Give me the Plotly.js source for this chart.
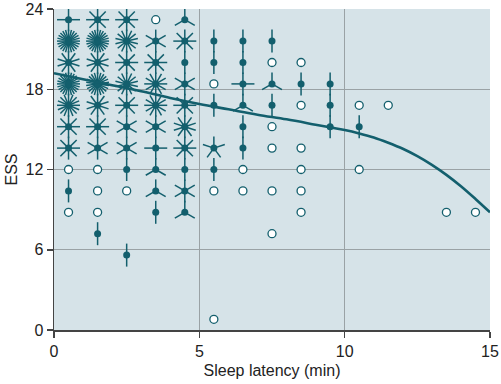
<!DOCTYPE html>
<html>
<head>
<meta charset="utf-8">
<script src="https://cdn.plot.ly/plotly-3.0.1.min.js"></script>
<style>html,body{margin:0;padding:0;background:#fff;}#chart{width:501px;height:384px;}</style>
</head>
<body>
<div id="chart"></div>
<script>
// Sunflower cells: sleep latency bin centre (min), ESS bin centre, number of observations
const latency = [
  0.5,0.5,0.5,0.5,0.5,0.5,0.5,0.5,0.5,0.5,
  1.5,1.5,1.5,1.5,1.5,1.5,1.5,1.5,1.5,1.5,1.5,
  2.5,2.5,2.5,2.5,2.5,2.5,2.5,2.5,2.5,2.5,
  3.5,3.5,3.5,3.5,3.5,3.5,3.5,3.5,3.5,3.5,
  4.5,4.5,4.5,4.5,4.5,4.5,4.5,4.5,4.5,4.5,
  5.5,5.5,5.5,5.5,5.5,5.5,5.5,5.5,
  6.5,6.5,6.5,6.5,6.5,6.5,6.5,6.5,
  7.5,7.5,7.5,7.5,7.5,7.5,7.5,7.5,
  8.5,8.5,8.5,8.5,8.5,8.5,8.5,
  9.5,9.5,9.5,
  10.5,10.5,10.5,
  11.5,
  13.5,
  14.5
];
const ess = [
  23.2,21.6,20.0,18.4,16.8,15.2,13.6,12.0,10.4,8.8,
  23.2,21.6,20.0,18.4,16.8,15.2,13.6,12.0,10.4,8.8,7.2,
  23.2,21.6,20.0,18.4,16.8,15.2,13.6,12.0,10.4,5.6,
  23.2,21.6,20.0,18.4,16.8,15.2,13.6,12.0,10.4,8.8,
  23.2,21.6,20.0,18.4,16.8,15.2,13.6,12.0,10.4,8.8,
  21.6,20.0,18.4,16.8,13.6,12.0,10.4,0.8,
  21.6,20.0,18.4,16.8,15.2,13.6,12.0,10.4,
  21.6,20.0,18.4,16.8,15.2,13.6,10.4,7.2,
  20.0,18.4,16.8,13.6,12.0,10.4,8.8,
  18.4,16.8,15.2,
  16.8,15.2,12.0,
  16.8,
  8.8,
  8.8
];
const counts = [
  4,24,10,24,16,8,8,1,2,1,
  8,24,10,22,10,8,6,1,1,1,2,
  8,14,8,14,8,6,6,2,1,2,
  1,6,8,12,12,6,4,3,3,2,
  3,8,2,6,8,10,8,2,6,3,
  2,2,1,2,5,2,1,1,
  2,2,4,3,2,2,1,1,
  2,1,3,2,1,1,1,1,
  1,2,1,1,1,1,1,
  2,2,2,
  1,2,1,
  1,
  1,
  1
];
// fitted curve
const fitX = [0,1,2,3,4,5,6,7,8,9,9.5,10,10.5,11,11.5,12,12.5,13,13.5,14,14.5,15];
const fitY = [19.2,18.75,18.3,17.85,17.35,16.9,16.5,16.1,15.75,15.35,15.15,14.95,14.7,14.4,14.0,13.55,13.0,12.35,11.6,10.75,9.8,8.8];

const W = 501, H = 384;
const M = {l:54, r:11, t:9, b:54};
const XR = [0,15], YR = [0,24];
const pxX = (W - M.l - M.r) / (XR[1]-XR[0]);
const pxY = (H - M.t - M.b) / (YR[1]-YR[0]);
const PETAL = 11.5;
const teal = '#135f6d';

const px = [], py = [];
const sx = [], sy = [], mx = [], my = [];
for (let i = 0; i < counts.length; i++) {
  const n = counts[i];
  if (n === 1) { sx.push(latency[i]); sy.push(ess[i]); continue; }
  mx.push(latency[i]); my.push(ess[i]);
  for (let k = 1; k <= n; k++) {
    const a = 2*Math.PI*k/n;
    px.push(latency[i], latency[i] + PETAL*Math.sin(a)/pxX, null);
    py.push(ess[i], ess[i] + PETAL*Math.cos(a)/pxY, null);
  }
}

const traces = [
  {x: px, y: py, mode:'lines', type:'scatter', line:{color:teal, width:1.5}, hoverinfo:'skip', showlegend:false},
  {x: mx, y: my, mode:'markers', type:'scatter', marker:{color:teal, size:7, line:{width:0}}, showlegend:false},
  {x: sx, y: sy, mode:'markers', type:'scatter', marker:{color:'#ffffff', size:8, line:{color:teal, width:1.3}}, showlegend:false},
  {x: fitX, y: fitY, mode:'lines', type:'scatter', line:{color:teal, width:2.6, shape:'spline', smoothing:1}, showlegend:false}
];

const font = {family:'"Liberation Sans", Arial, sans-serif', size:16, color:'#222'};
const layout = {
  width: W, height: H,
  margin: M,
  paper_bgcolor:'#ffffff',
  plot_bgcolor:'#d6e3e8',
  font: font,
  showlegend:false,
  xaxis: {
    range: XR, tickvals:[0,5,10,15], ticktext:['0','5','10','15'],
    showgrid:true, gridcolor:'#9aa2a5', gridwidth:1,
    zeroline:false, showline:true, linecolor:'#444', linewidth:1.5,
    ticks:'outside', ticklen:6, tickcolor:'#444', tickwidth:1.5,
    tickfont:font, automargin:false,
    title:{text:'Sleep latency (min)', font:font, standoff:6},
    fixedrange:true
  },
  yaxis: {
    range: YR, tickvals:[0,6,12,18,24], ticktext:['0','6','12','18','24'],
    showgrid:true, gridcolor:'#9aa2a5', gridwidth:1,
    zeroline:false, showline:true, linecolor:'#444', linewidth:1.5,
    ticks:'outside', ticklen:6, tickcolor:'#444', tickwidth:1.5,
    tickfont:font, automargin:false,
    title:{text:'ESS', font:font, standoff:4},
    fixedrange:true
  }
};
Plotly.newPlot('chart', traces, layout, {staticPlot:true, displayModeBar:false});
</script>
</body>
</html>
